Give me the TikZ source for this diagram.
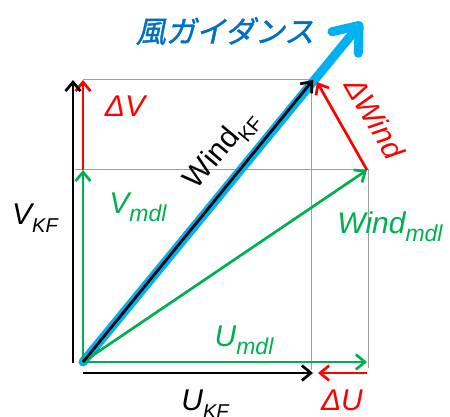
\documentclass[tikz,border=0pt]{standalone}
\usepackage{fontspec}
\setmainfont{Liberation Sans}
\newfontfamily\jpfont[FakeSlant=0.22,FakeBold=1.4]{Noto Sans CJK JP}
\usetikzlibrary{arrows.meta, calc}
\definecolor{mdlgreen}{RGB}{0, 176, 80}
\definecolor{diffred}{RGB}{255, 0, 0}
\definecolor{guideblue}{RGB}{0, 176, 240}
\definecolor{guidetext}{RGB}{0, 112, 192}
\definecolor{gridgray}{RGB}{160, 160, 160}
\newcommand{\subkf}[1]{\raisebox{-0.28em}{\fontsize{20}{20}\selectfont #1}}
\newcommand{\submdl}[1]{\raisebox{-0.28em}{\fontsize{23}{23}\selectfont #1}}

\tikzset{
  vec/.style={line width=2.7pt, -{Straight Barb[length=9pt, width=15pt, line width=2.7pt]}},
  gridline/.style={gridgray, line width=0.9pt},
  lbl/.style={font=\fontsize{30}{30}\selectfont, inner sep=0pt}
}

\begin{document}
\begin{tikzpicture}[x=1pt, y=-1pt]
  \useasboundingbox (0,0) rectangle (450,417);

  % points
  \coordinate (O) at (83,362);
  \coordinate (Ukf0) at (83,373);
  \coordinate (Ukf) at (313,373);
  \coordinate (Vkf0) at (73,363);
  \coordinate (Vkf) at (73,80);
  \coordinate (Umdl) at (367,362);
  \coordinate (dU) at (367,373);
  \coordinate (Vmdl) at (83,170);
  \coordinate (Vtop) at (83,80);
  \coordinate (Wmdl) at (367,170);
  \coordinate (Wkf) at (313,80);
  \coordinate (Wguide) at (362,22);

  % grid
  \draw[gridline] (83,79) -- (312,79);
  \draw[gridline] (75,169) -- (368,169);
  \draw[gridline] (311,79) -- (311,370);
  \draw[gridline] (368,169) -- (368,368);

  % guidance arrow
  \draw[guideblue, line width=9pt, line cap=round,
    -{Straight Barb[length=22pt, width=34pt, line width=9pt, round]}] (O) -- (Wguide);

  % model vectors
  \draw[vec, mdlgreen] (O) -- (Umdl);
  \draw[vec, mdlgreen] (O) -- (Vmdl);
  \draw[vec, mdlgreen] (O) -- (Wmdl);

  % differences
  \draw[vec, diffred] (Vmdl) -- (Vtop);
  \draw[vec, diffred] (dU) -- ($(Ukf)+(5,0)$);
  \draw[vec, diffred] (Wmdl) -- ($(Wkf)+(4,2)$);

  % analysis vectors
  \draw[vec, black] (Ukf0) -- (Ukf);
  \draw[vec, black] (Vkf0) -- (Vkf);
  \draw[vec, black] (O) -- (Wkf);

  % labels
  \node[lbl, guidetext] (tguide) at (225,31) {\jpfont 風ガイダンス};
  \node[lbl, diffred] (tdV) at (125,106) {\itshape ΔV};
  \node[lbl, diffred] (tdU) at (342,400) {\itshape ΔU};
  \node[lbl, diffred, rotate=-60] (tdW) at (375,118) {\itshape ΔWind};
  \node[lbl, black, rotate=50] (tWkf) at (222,150) {Wind\subkf{KF}};
  \node[lbl, black] (tVkf) at (35,218) {\itshape V\subkf{KF}};
  \node[lbl, black] (tUkf) at (205,404) {\itshape U\subkf{KF}};
  \node[lbl, mdlgreen] (tVmdl) at (138,207) {\itshape V\submdl{mdl}};
  \node[lbl, mdlgreen] (tUmdl) at (244,340) {\itshape U\submdl{mdl}};
  \node[lbl, mdlgreen] (tWmdl) at (390,227) {\itshape Wind\submdl{mdl}};
\end{tikzpicture}
\end{document}
